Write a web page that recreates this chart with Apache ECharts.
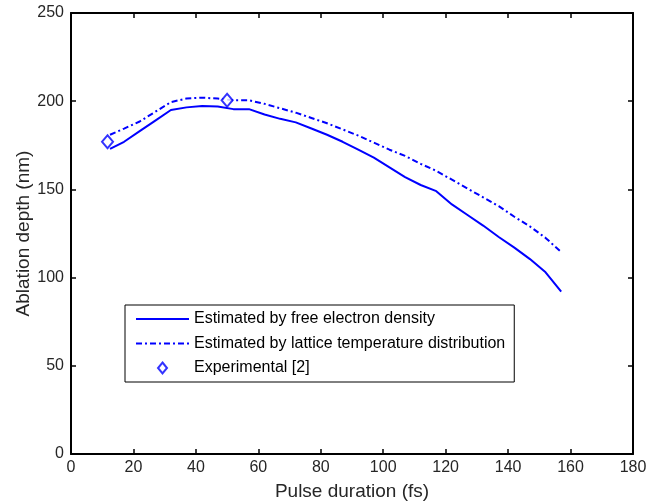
<!DOCTYPE html>
<html>
<head>
<meta charset="utf-8">
<script src="https://cdn.jsdelivr.net/npm/echarts@6/dist/echarts.min.js"></script>
<style>html,body{margin:0;padding:0;background:#fff}#c{width:664px;height:504px}</style>
</head>
<body>
<div id="c"></div>
<script>
const pulseX = [12.5,17,22,27,32,37,42,47,52,57,62,67,72,77,82,87,92,97,102,107,112,117,122,127,132,137,142,147,152,157];
const freeElectron = [173,177,183,189,195,196.5,197.3,197,195.5,195.5,192.5,190,188,184.5,181,177,172.5,168,162.5,157,152.5,149,141.5,135.5,129.5,123,117,110.5,103,92];
const latticeTemp = [181,184.5,188.5,194,199.5,201.5,202,201.5,200.5,200.5,198.5,196,193.5,190.5,187.5,184,180.5,176.5,172.5,169,164.5,160.5,155.5,150.5,145.5,140.5,134.5,129,122.5,114.5];
const expX = [11.7, 50];
const expY = [177, 200.5];
const names = ['Estimated by free electron density','Estimated by lattice temperature distribution','Experimental [2]'];

const zip = (a,b)=>a.map((v,i)=>[v,b[i]]);
const font = 'Arial, "Liberation Sans", sans-serif';
const tickStyle = {show:true, inside:true, length:5, lineStyle:{color:'#000', width:1.5}};
const axLine = {show:true, onZero:false, lineStyle:{color:'#000', width:2}};
const hidden = {color:'rgba(0,0,0,0)', borderWidth:0};
const chart = echarts.init(document.getElementById('c'));
chart.setOption({
  animation:false,
  backgroundColor:'#fff',
  grid:{left:71, right:31, top:13, bottom:50, outerBoundsMode:'none', containLabel:false},
  legend:{
    orient:'vertical', left:125, top:305, padding:[6,9,6,10],
    borderColor:'#000', borderWidth:1, backgroundColor:'#fff',
    itemWidth:53, itemHeight:14, itemGap:8.5,
    textStyle:{fontFamily:font, fontSize:16, color:'#000'},
    data:[
      {name:names[0], itemStyle:hidden},
      {name:names[1], itemStyle:hidden},
      {name:names[2], icon:'path://M0,0M53,14M26.5,1.5L31,7L26.5,12.5L22,7Z'}
    ]
  },
  xAxis:[
    {type:'value', min:0, max:180, interval:20, position:'bottom',
     axisLine:axLine, axisTick:tickStyle, splitLine:{show:false},
     axisLabel:{fontFamily:font, fontSize:16, color:'#262626', margin:6},
     name:'Pulse duration (fs)', nameLocation:'middle', nameGap:28, nameMoveOverlap:false,
     nameTextStyle:{fontFamily:font, fontSize:19, color:'#262626'}},
    {type:'value', min:0, max:180, interval:20, position:'top',
     axisLine:axLine, axisTick:tickStyle, splitLine:{show:false}, axisLabel:{show:false}}
  ],
  yAxis:[
    {type:'value', min:0, max:250, interval:50, position:'left',
     axisLine:axLine, axisTick:tickStyle, splitLine:{show:false},
     axisLabel:{fontFamily:font, fontSize:16, color:'#262626', margin:7},
     name:'Ablation depth (nm)', nameLocation:'middle', nameGap:38, nameMoveOverlap:false,
     nameTextStyle:{fontFamily:font, fontSize:19, color:'#262626'}},
    {type:'value', min:0, max:250, interval:50, position:'right',
     axisLine:axLine, axisTick:tickStyle, splitLine:{show:false}, axisLabel:{show:false}}
  ],
  series:[
    {name:names[0], type:'line', data:zip(pulseX, freeElectron), symbol:'none',
     lineStyle:{color:'#0000ff', width:2}, itemStyle:{color:'#0000ff'}},
    {name:names[1], type:'line', data:zip(pulseX, latticeTemp), symbol:'none',
     lineStyle:{color:'#0000ff', width:2, type:[6,3,2,3]}, itemStyle:{color:'#0000ff'}},
    {name:names[2], type:'scatter', data:zip(expX, expY), symbol:'diamond', symbolSize:[11,13],
     itemStyle:{color:'#fff', borderColor:'#0000ff', borderWidth:2}, z:5}
  ]
});
</script>
</body>
</html>
